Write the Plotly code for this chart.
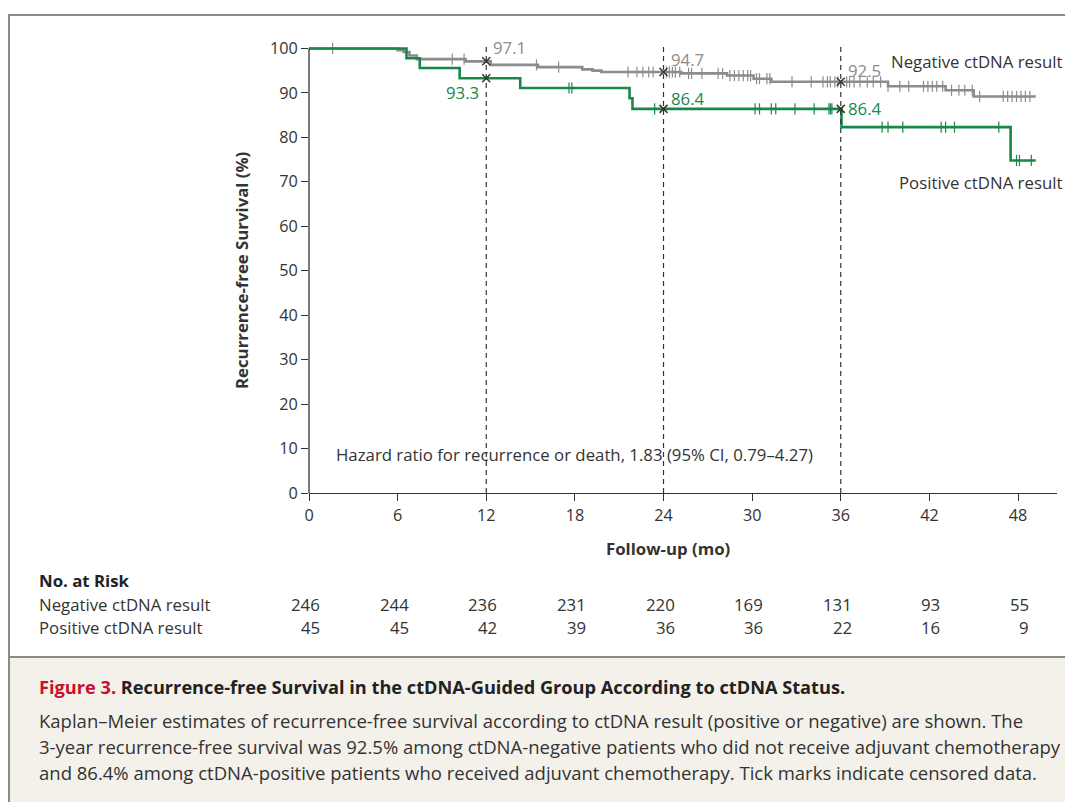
import plotly.graph_objects as go

# ---------------- data ----------------
neg_times = [0, 6.0, 6.4, 6.8, 7.3, 10.6, 12.3, 15.5, 18.5, 19.2, 19.8, 25.2, 28.3, 30.1, 31.3, 39.2, 43.1, 45.0]
neg_surv = [100, 99.6, 99.2, 98.4, 97.6, 97.1, 96.3, 95.8, 95.3, 95.0, 94.7, 94.4, 93.9, 93.2, 92.5, 91.5, 90.6, 89.2]
neg_end = 49.2
neg_censor = [1.6, 9.7, 10.5, 15.4, 16.9, 21.6, 22.2, 22.6, 23.0, 23.3,
              24.2, 24.4, 24.6, 24.8, 25.1, 25.7, 25.9, 26.6, 27.7, 28.0,
              28.5, 28.8, 29.1, 29.4, 29.7, 29.9, 30.3, 30.5, 31.0, 31.2,
              32.7, 34.0, 34.8, 35.1, 35.3, 35.6, 35.8, 36.4, 36.6, 36.9,
              37.3, 37.8, 38.2, 38.7, 39.2, 40.0, 40.6, 41.6, 41.9, 42.2,
              42.5, 42.9, 43.5, 44.0, 44.4, 44.9, 45.4, 47.0, 47.3, 47.6,
              47.9, 48.2, 48.5, 48.8]

pos_times = [0, 6.6, 7.5, 10.2, 14.3, 21.7, 21.9, 36.05, 47.5]
pos_surv = [100, 97.8, 95.6, 93.3, 91.1, 88.8, 86.4, 82.3, 74.8]
pos_end = 49.2
pos_censor = [17.6, 17.8, 23.4, 30.2, 30.5, 31.3, 31.6, 32.9, 34.2, 35.2,
              35.3, 35.4, 38.8, 39.2, 40.2, 42.8, 43.1, 43.7, 46.7, 47.9,
              48.1, 48.9]

landmark_months = [12, 24, 36]
neg_landmark = [97.1, 94.7, 92.5]
pos_landmark = [93.3, 86.4, 86.4]

x_ticks = [0, 6, 12, 18, 24, 30, 36, 42, 48]
y_ticks = [0, 10, 20, 30, 40, 50, 60, 70, 80, 90, 100]
risk_neg = [246, 244, 236, 231, 220, 169, 131, 93, 55]
risk_pos = [45, 45, 42, 39, 36, 36, 22, 16, 9]

neg_name = "Negative ctDNA result"
pos_name = "Positive ctDNA result"
hr_text = "Hazard ratio for recurrence or death, 1.83 (95% CI, 0.79\u20134.27)"

# ---------------- styles ----------------
OFF = 8                      # page body margin
W, H = 1073 - OFF, 802 - OFF
L, R, T, B = 309, 1057, 44, 493   # plot box in page pixels
XMAX = 48 * (R - L) / (1018 - L)
FONT = "Open Sans"
DARK = "#333333"
GRAY = "#8c8c8c"
GREEN = "#18874a"
FS = 16.8
TFS = 16.2


def px(x):
    return (x - L) / (R - L)


def py(y):
    return (B - y) / (B - T)


def step_value(times, surv, t):
    v = surv[0]
    for tt, s in zip(times, surv):
        if tt <= t:
            v = s
    return v


fig = go.Figure()

for times, surv, end, cens, col in [
    (neg_times, neg_surv, neg_end, neg_censor, GRAY),
    (pos_times, pos_surv, pos_end, pos_censor, GREEN),
]:
    fig.add_trace(go.Scatter(
        x=times + [end], y=surv + [surv[-1]], mode="lines",
        line=dict(color=col, width=2.6, shape="hv"), hoverinfo="skip",
    ))
    fig.add_trace(go.Scatter(
        x=cens, y=[step_value(times, surv, t) for t in cens], mode="markers",
        marker=dict(symbol="line-ns", size=8, line=dict(color=col, width=1.2)),
        cliponaxis=False, hoverinfo="skip",
    ))

fig.add_trace(go.Scatter(
    x=landmark_months + landmark_months, y=neg_landmark + pos_landmark,
    mode="markers",
    marker=dict(symbol="x-thin", size=8, line=dict(color=DARK, width=1.5)),
    cliponaxis=False, hoverinfo="skip",
))

shapes = []
shapes.append(dict(type="rect", xref="paper", yref="paper", x0=px(9), x1=px(1090),
                   y0=py(657), y1=py(820), fillcolor="#f4f1eb", line=dict(width=0), layer="below"))
shapes.append(dict(type="line", xref="paper", yref="paper", x0=px(0), x1=px(1090),
                   y0=py(7), y1=py(7), line=dict(color="#222222", width=1.5)))
shapes.append(dict(type="rect", xref="paper", yref="paper", x0=px(9), x1=px(1090),
                   y0=py(15), y1=py(820), line=dict(color="#8a8a8a", width=2)))
shapes.append(dict(type="line", xref="paper", yref="paper", x0=px(9), x1=px(1090),
                   y0=py(657), y1=py(657), line=dict(color="#8a8a8a", width=2)))
shapes.append(dict(type="line", xref="paper", yref="y", x0=0, x1=0, y0=0, y1=100,
                   line=dict(color=DARK, width=1.3)))
for m in landmark_months:
    shapes.append(dict(type="line", xref="x", yref="paper", x0=m, x1=m,
                       y0=0, y1=py(43), line=dict(color=DARK, width=1.2, dash="5px,4px")))

ann = []


def note(x, y, text, xref="paper", yref="paper", xa="left", size=FS, color=DARK, **kw):
    ann.append(dict(x=x, y=y, xref=xref, yref=yref, text=text, showarrow=False,
                    xanchor=xa, yanchor="middle", font=dict(family=FONT, size=size, color=color), **kw))


for m, v, ys in zip(landmark_months, neg_landmark, [100.2, 97.5, 95.1]):
    note(m, ys, f"{v}", xref="x", yref="y", color=GRAY, xshift=5)
note(landmark_months[0], 90.1, f"{pos_landmark[0]}", xref="x", yref="y", xa="right", color=GREEN, xshift=-5)
for m, v, ys in zip(landmark_months[1:], pos_landmark[1:], [88.8, 86.5]):
    note(m, ys, f"{v}", xref="x", yref="y", color=GREEN, xshift=5)

note(px(1064), py(61), neg_name, xa="right")
note(px(1064), py(182), pos_name, xa="right")
note(18, py(454), hr_text, xref="x", xa="center")

note(px(241), py(270), "<b>Recurrence-free Survival (%)</b>", xa="center", textangle=-90)
note(px(668), py(548), "<b>Follow-up (mo)</b>", xa="center")

note(px(37), py(580), "<b>No. at Risk</b>", color="#222222")
for label, row, ypix in [(neg_name, risk_neg, 604), (pos_name, risk_pos, 627)]:
    note(px(37), py(ypix), label)
    for t, n in zip(x_ticks, row):
        note(t, py(ypix), str(n), xref="x", xa="right", xshift=13)

note(px(37), py(687),
     "<b><span style='color:#c8102e'>Figure 3.</span> Recurrence-free Survival in the ctDNA-Guided Group According to ctDNA Status.</b>",
     size=18.2, color="#222222")
caption_lines = [
    "Kaplan\u2013Meier estimates of recurrence-free survival according to ctDNA result (positive or negative) are shown. The",
    "3-year recurrence-free survival was 92.5% among ctDNA-negative patients who did not receive adjuvant chemotherapy",
    "and 86.4% among ctDNA-positive patients who received adjuvant chemotherapy. Tick marks indicate censored data.",
]
for line, ypix in zip(caption_lines, [720, 746, 772]):
    note(px(37), py(ypix), line, size=18.5)

fig.update_layout(
    width=W, height=H,
    margin=dict(l=L - OFF, r=1073 - R, t=T - OFF, b=802 - B, pad=0),
    paper_bgcolor="white", plot_bgcolor="white",
    showlegend=False,
    shapes=shapes, annotations=ann,
    font=dict(family=FONT, size=FS, color=DARK),
    xaxis=dict(range=[0, XMAX], tickvals=x_ticks, ticks="outside", ticklen=7, tickwidth=1.3,
               tickcolor=DARK, showline=True, linecolor=DARK, linewidth=1.3, showgrid=False,
               zeroline=False, tickfont=dict(family=FONT, size=TFS, color=DARK)),
    yaxis=dict(range=[0, 101], tickvals=y_ticks, ticks="outside", ticklen=7, tickwidth=1.3,
               tickcolor=DARK, showline=False, showgrid=False, zeroline=False,
               tickfont=dict(family=FONT, size=TFS, color=DARK)),
)

fig.write_html("out.html")
